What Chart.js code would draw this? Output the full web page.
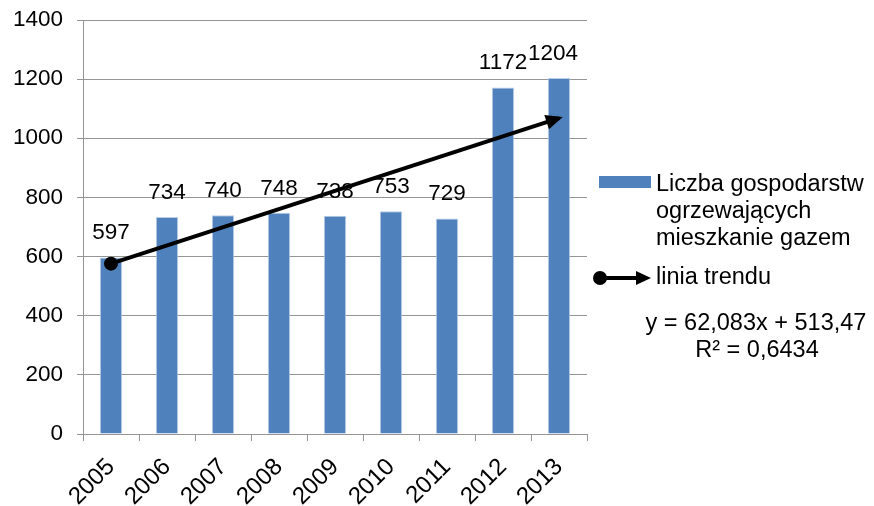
<!DOCTYPE html>
<html>
<head>
<meta charset="utf-8">
<script src="https://cdn.jsdelivr.net/npm/chart.js@4/dist/chart.umd.min.js"></script>
<style>
  body { margin: 0; background: #fff; }
</style>
</head>
<body>
<canvas id="myChart" width="874" height="506"></canvas>
<script>
const years = ['2005', '2006', '2007', '2008', '2009', '2010', '2011', '2012', '2013'];
const households = [597, 734, 740, 748, 738, 753, 729, 1172, 1204];
const trendLine = [576, null, null, null, null, null, null, null, 1068];
const yTicks = [0, 200, 400, 600, 800, 1000, 1200, 1400];

const legendSeries = ['Liczba gospodarstw', 'ogrzewających', 'mieszkanie gazem'];
const legendTrend = 'linia trendu';
const equation = ['y = 62,083x + 513,47', 'R² = 0,6434'];

const FAMILY = '"Liberation Sans", Arial, sans-serif';
const FONT = '22.5px ' + FAMILY;
const LEGEND_FONT = '23.5px ' + FAMILY;
const BLUE = '#4f81bd';
const GREY = '#959595';

// number above each bar
const barLabels = {
  id: 'barLabels',
  afterDatasetsDraw(chart) {
    const ctx = chart.ctx;
    const meta = chart.getDatasetMeta(0);
    ctx.save();
    ctx.font = FONT;
    ctx.fillStyle = '#000';
    ctx.textAlign = 'center';
    ctx.textBaseline = 'alphabetic';
    meta.data.forEach((bar, i) => {
      const shift = i === meta.data.length - 1 ? -6 : 0;
      ctx.fillText(households[i], bar.x + shift, bar.y - 18);
    });
    ctx.restore();
  }
};

// arrow head at the end of trend line + right side legend
const extras = {
  id: 'extras',
  afterDraw(chart) {
    const ctx = chart.ctx;
    const pts = chart.getDatasetMeta(1).data;
    const a = pts[0], b = pts[pts.length - 1];
    const ang = Math.atan2(b.y - a.y, b.x - a.x);

    ctx.save();
    ctx.fillStyle = '#000';
    ctx.translate(b.x, b.y);
    ctx.rotate(ang);
    ctx.beginPath();
    ctx.moveTo(4, 0);
    ctx.lineTo(-13, -7.5);
    ctx.lineTo(-13, 7.5);
    ctx.closePath();
    ctx.fill();
    ctx.restore();

    // legend
    ctx.save();
    ctx.fillStyle = BLUE;
    ctx.fillRect(599, 176, 52, 12);
    ctx.font = LEGEND_FONT;
    ctx.fillStyle = '#000';
    ctx.textBaseline = 'middle';
    ctx.textAlign = 'left';
    legendSeries.forEach((t, i) => ctx.fillText(t, 656, 185 + i * 27));

    ctx.strokeStyle = '#000';
    ctx.lineWidth = 4;
    ctx.beginPath();
    ctx.moveTo(600, 278);
    ctx.lineTo(638, 278);
    ctx.stroke();
    ctx.beginPath();
    ctx.arc(600, 278, 7, 0, Math.PI * 2);
    ctx.fill();
    ctx.beginPath();
    ctx.moveTo(651, 278);
    ctx.lineTo(636, 271);
    ctx.lineTo(636, 285);
    ctx.closePath();
    ctx.fill();
    ctx.fillText(legendTrend, 656, 278);

    ctx.textAlign = 'center';
    ctx.fillText(equation[0], 756, 324);
    ctx.fillText(equation[1], 757, 351);
    ctx.restore();
  }
};

const ctx = document.getElementById('myChart').getContext('2d');

new Chart(ctx, {
  type: 'bar',
  data: {
    labels: years,
    datasets: [{
      label: legendSeries.join(' '),
      data: households,
      backgroundColor: BLUE,
      borderColor: '#b9cde5',
      borderWidth: { left: 1, right: 1, top: 1, bottom: 0 },
      barPercentage: 0.4,
      categoryPercentage: 1,
      order: 2
    }, {
      type: 'line',
      label: legendTrend,
      data: trendLine,
      spanGaps: true,
      borderColor: '#000',
      borderWidth: 4,
      pointRadius: [7, 0, 0, 0, 0, 0, 0, 0, 0],
      pointBackgroundColor: '#000',
      pointBorderWidth: 0,
      order: 1
    }]
  },
  options: {
    responsive: false,
    animation: false,
    layout: { padding: { left: 0, right: 287, top: 20, bottom: 0 } },
    plugins: {
      legend: { display: false },
      tooltip: { enabled: false }
    },
    scales: {
      x: {
        afterFit: (s) => { s.height = 72; s.paddingLeft = 0; s.paddingRight = 0; },
        grid: {
          offset: true,
          drawOnChartArea: false,
          color: GREY,
          tickLength: 7
        },
        border: { color: GREY, width: 1 },
        ticks: {
          color: '#000',
          font: { family: FAMILY, size: 24 },
          minRotation: 45,
          maxRotation: 45,
          padding: 12
        }
      },
      y: {
        min: 0,
        max: 1400,
        afterFit: (s) => { s.width = 83; s.paddingTop = 0; s.paddingBottom = 0; },
        afterBuildTicks: (s) => { s.ticks = yTicks.map(v => ({ value: v })); },
        grid: { color: GREY, tickLength: 6 },
        border: { color: GREY, width: 1 },
        ticks: {
          color: '#000',
          font: { family: FAMILY, size: 22.5 },
          padding: 14,
          callback: (v) => String(v)
        }
      }
    }
  },
  plugins: [barLabels, extras]
});
</script>
</body>
</html>
